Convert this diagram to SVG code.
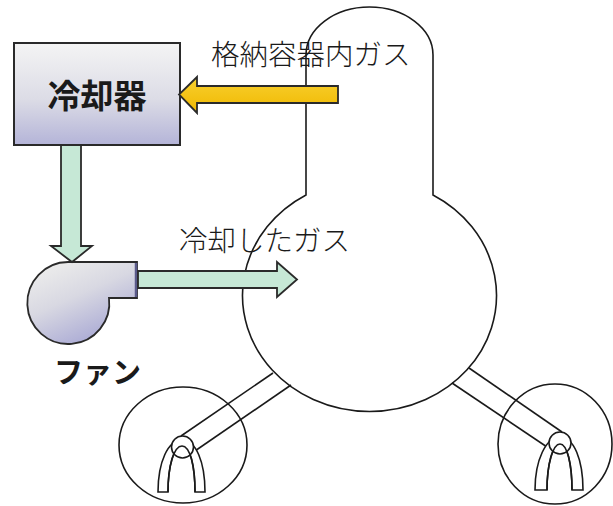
<svg xmlns="http://www.w3.org/2000/svg" width="613" height="506" viewBox="0 0 613 506">
  <style>
    .ol { fill: none; stroke: #1a1a1a; stroke-width: 1.6; }
    .olw { fill: #ffffff; stroke: #1a1a1a; stroke-width: 1.6; }
    .lbl { font-family: "Noto Sans CJK JP", "Noto Sans", sans-serif; fill: #1a1a1a; }
    .thin { font-weight: 300; }
    .bold { font-weight: 700; }
    .arrow { stroke: #2a2a2a; stroke-width: 1.8; stroke-linejoin: miter; }
  </style>
  <defs>
    <linearGradient id="boxFill" x1="0" y1="0" x2="0" y2="1">
      <stop offset="0" stop-color="#f4f4f4"/>
      <stop offset="0.55" stop-color="#dcdce6"/>
      <stop offset="1" stop-color="#b4b4d8"/>
    </linearGradient>
    <linearGradient id="fanFill" x1="0" y1="0" x2="0.6" y2="1">
      <stop offset="0" stop-color="#f2f2ee"/>
      <stop offset="0.5" stop-color="#d8d8e2"/>
      <stop offset="1" stop-color="#a8a8d4"/>
    </linearGradient>
    <linearGradient id="goldFill" x1="0" y1="0" x2="0" y2="1">
      <stop offset="0" stop-color="#f8d030"/>
      <stop offset="1" stop-color="#f0b800"/>
    </linearGradient>
  </defs>

  <rect width="613" height="506" fill="#ffffff"/>

  <!-- containment vessel: upper cylinder with rounded head and spherical lower part -->
  <g id="vessel">
    <path class="ol" d="M 306 195 L 306 55 A 63.5 48 0 0 1 433 55 L 433 195 A 127 116 0 1 1 306 195 Z"/>
  </g>

  <!-- left leg: pipe, enclosure and knuckle -->
  <g id="leg-left">
    <ellipse class="ol" cx="183" cy="445" rx="64" ry="58"/>
    <line class="ol" x1="181" y1="436" x2="273" y2="373"/>
    <line class="ol" x1="192" y1="453" x2="291" y2="385"/>
    <path class="olw" d="M 158 492 C 158 462 168 440 182 440 C 196 440 205 462 205 492 L 195 492 C 195 466 190 445 182 445 C 174 445 168 466 168 492 Z"/>
    <circle class="olw" cx="182.5" cy="447" r="11"/>
    <path class="ol" d="M 168 492 C 168 466 174 446 182 446 C 190 446 195 466 195 492"/>
  </g>

  <!-- right leg: pipe, enclosure and knuckle -->
  <g id="leg-right">
    <ellipse class="ol" cx="555" cy="444" rx="57" ry="60"/>
    <line class="ol" x1="469" y1="368" x2="562" y2="432"/>
    <line class="ol" x1="452" y1="383" x2="550" y2="449"/>
    <path class="olw" d="M 535 490 C 535 460 546 437 560 437 C 574 437 583 460 583 490 L 572 490 C 572 464 567 443 560 443 C 553 443 547 464 547 490 Z"/>
    <circle class="olw" cx="560" cy="443" r="11"/>
    <path class="ol" d="M 547 490 C 547 464 553 444 560 444 C 567 444 572 464 572 490"/>
  </g>

  <!-- cooler unit -->
  <g id="cooler">
    <rect x="14" y="43" width="166" height="102" fill="url(#boxFill)" stroke="#2a2a2a" stroke-width="2"/>
    <text class="lbl bold" x="97" y="108" font-size="33" text-anchor="middle">冷却器</text>
  </g>

  <!-- circulation fan -->
  <g id="fan">
    <path d="M 68 262 L 137 262 L 137 298 L 109 298 A 41 41 0 1 1 68 262 Z" fill="url(#fanFill)" stroke="#2a2a2a" stroke-width="1.8"/>
    <line x1="136" y1="263" x2="136" y2="297" stroke="#5a5a8a" stroke-width="2.5"/>
    <text class="lbl bold" x="54" y="383" font-size="29">ファン</text>
  </g>

  <!-- gas flow arrows -->
  <g id="connectors">
    <path class="arrow" fill="url(#goldFill)" d="M 338 86 L 197 86 L 197 77 L 179 94.5 L 197 113 L 197 103 L 338 103 Z"/>
    <path class="arrow" fill="#c6e8d6" d="M 61 145 L 81 145 L 81 246 L 92 246 L 72 262 L 51 246 L 61 246 Z"/>
    <path class="arrow" fill="#c6e8d6" d="M 138 271 L 277 271 L 277 262 L 297 279.5 L 277 297 L 277 288 L 138 288 Z"/>
  </g>

  <!-- flow labels -->
  <g id="labels">
    <text class="lbl thin" x="211" y="65" font-size="28.5">格納容器内ガス</text>
    <text class="lbl thin" x="179" y="251" font-size="28.5">冷却したガス</text>
  </g>
</svg>
